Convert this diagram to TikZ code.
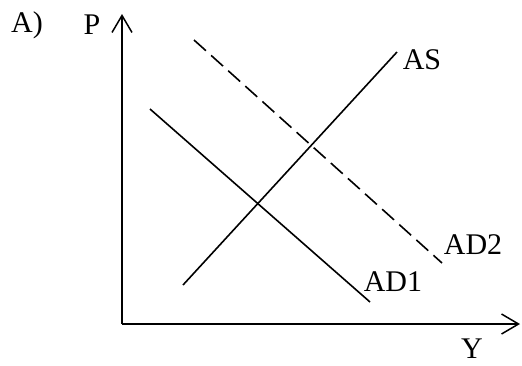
\documentclass[tikz,border=0pt]{standalone}
\usepackage{fontspec}
\setmainfont{Liberation Serif}
\usetikzlibrary{arrows.meta}
\tikzset{
  axis/.style={line width=1.8pt, -{Straight Barb[length=17pt,width=20pt,line width=1.5pt]}},
  curve/.style={line width=1.6pt},
  dcurve/.style={line width=1.6pt, dash pattern=on 16pt off 7pt},
  lbl/.style={font=\fontsize{30}{36}\selectfont, inner sep=0pt},
}
\begin{document}
\begin{tikzpicture}[x=1pt,y=-1pt]
\useasboundingbox (0,0) rectangle (522,365);
\coordinate (O) at (122,324);
\coordinate (Ptop) at (122,14);
\coordinate (Yend) at (520,324);
\draw[axis] (O) -- (Ptop);
\draw[axis] (O) -- (Yend);
\coordinate (ASa) at (183,285);
\coordinate (ASb) at (397,52);
\coordinate (AD1a) at (150,109);
\coordinate (AD1b) at (370,302);
\coordinate (AD2a) at (194,40);
\coordinate (AD2b) at (442,263);
\draw[curve] (ASa) -- (ASb);
\draw[curve] (AD1a) -- (AD1b);
\draw[dcurve] (AD2a) -- (AD2b);
\node[lbl] (tA) at (27,25) {A)};
\node[lbl] (tP) at (92,25) {P};
\node[lbl] (tY) at (472,349) {Y};
\node[lbl] (tAS) at (422,60) {AS};
\node[lbl] (tAD1) at (393,282) {AD1};
\node[lbl] (tAD2) at (473,245) {AD2};
\end{tikzpicture}
\end{document}
